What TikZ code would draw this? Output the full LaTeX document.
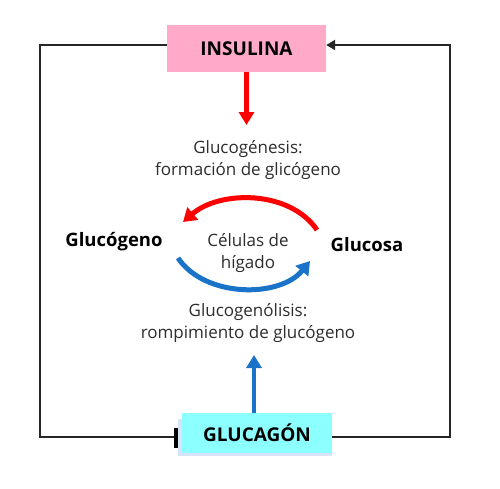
\documentclass[tikz,border=0pt]{standalone}
\usepackage{fontspec}
\setmainfont{Open Sans}
\usetikzlibrary{arrows.meta}
\definecolor{inspink}{RGB}{255,170,200}
\definecolor{glucyan}{RGB}{140,255,255}
\definecolor{shadowblue}{RGB}{215,228,248}
\definecolor{arrred}{RGB}{255,0,0}
\definecolor{arrblue}{RGB}{25,115,200}
\definecolor{txtgrey}{RGB}{45,45,45}
\tikzset{
  hormone/.style={minimum height=47pt, font=\fontsize{19}{22}\selectfont\bfseries, text=black, inner sep=0pt},
  loopline/.style={draw=black!85, line width=2pt},
  fatarrow/.style={line width=4.5pt, -{Triangle[width=15pt,length=13pt]}},
  arcarrow/.style={line width=5pt, -{Triangle[width=16pt,length=13pt]}},
  caption/.style={font=\fontsize{17}{21.5}\selectfont, text=txtgrey, align=center, inner sep=0pt},
  metab/.style={font=\fontsize{18.5}{21}\selectfont\bfseries, text=black, inner sep=0pt}
}
\begin{document}
\begin{tikzpicture}[x=1pt,y=-1pt]
\useasboundingbox[fill=white] (0,0) rectangle (500,488);
% boxes
\node[hormone, fill=inspink, minimum width=159pt] (ins) at (246.5,48.5) {INSULINA};
\fill[shadowblue] (178,419) rectangle (332,456);
\node[hormone, fill=glucyan, minimum width=150pt, minimum height=40pt] (glu) at (257,433) {GLUCAGÓN};
% loop lines
\coordinate (tl) at (40,45);
\coordinate (bl) at (40,437);
\coordinate (br) at (450,437);
\coordinate (tr) at (450,45);
\draw[loopline] (ins.west |- tl) -- (tl) -- (bl) -- (176,437);
\draw[black, line width=3.5pt] (176,428) -- (176,448);
\draw[loopline, -{Triangle[width=10pt,length=9pt]}] (glu.east |- br) -- (br) -- (tr) -- (ins.east |- tr);
% captions
\node[caption] (gen) at (248,160) {Glucogénesis:\\formación de glicógeno};
\node[caption] (lis) at (248,323) {Glucogenólisis:\\rompimiento de glucógeno};
\node[caption] (cel) at (248,253) {Células de\\hígado};
\node[metab] (gco) at (114,242) {Glucógeno};
\node[metab] (gsa) at (367,245) {Glucosa};
% vertical arrows
\draw[fatarrow, arrred] (ins.south -| 246.5,0) -- (246.5,125);
\draw[fatarrow, arrblue] (glu.north -| 254,0) -- (254,355);
% arcs
\coordinate (r1) at (317,230);
\coordinate (r2) at (183,222);
\coordinate (b1) at (178,258);
\coordinate (b2) at (310,261);
\draw[arcarrow, arrred] (r1) .. controls (290,190) and (220,190) .. (r2);
\draw[arcarrow, arrblue] (b1) .. controls (205,298) and (280,298) .. (b2);
\end{tikzpicture}
\end{document}
